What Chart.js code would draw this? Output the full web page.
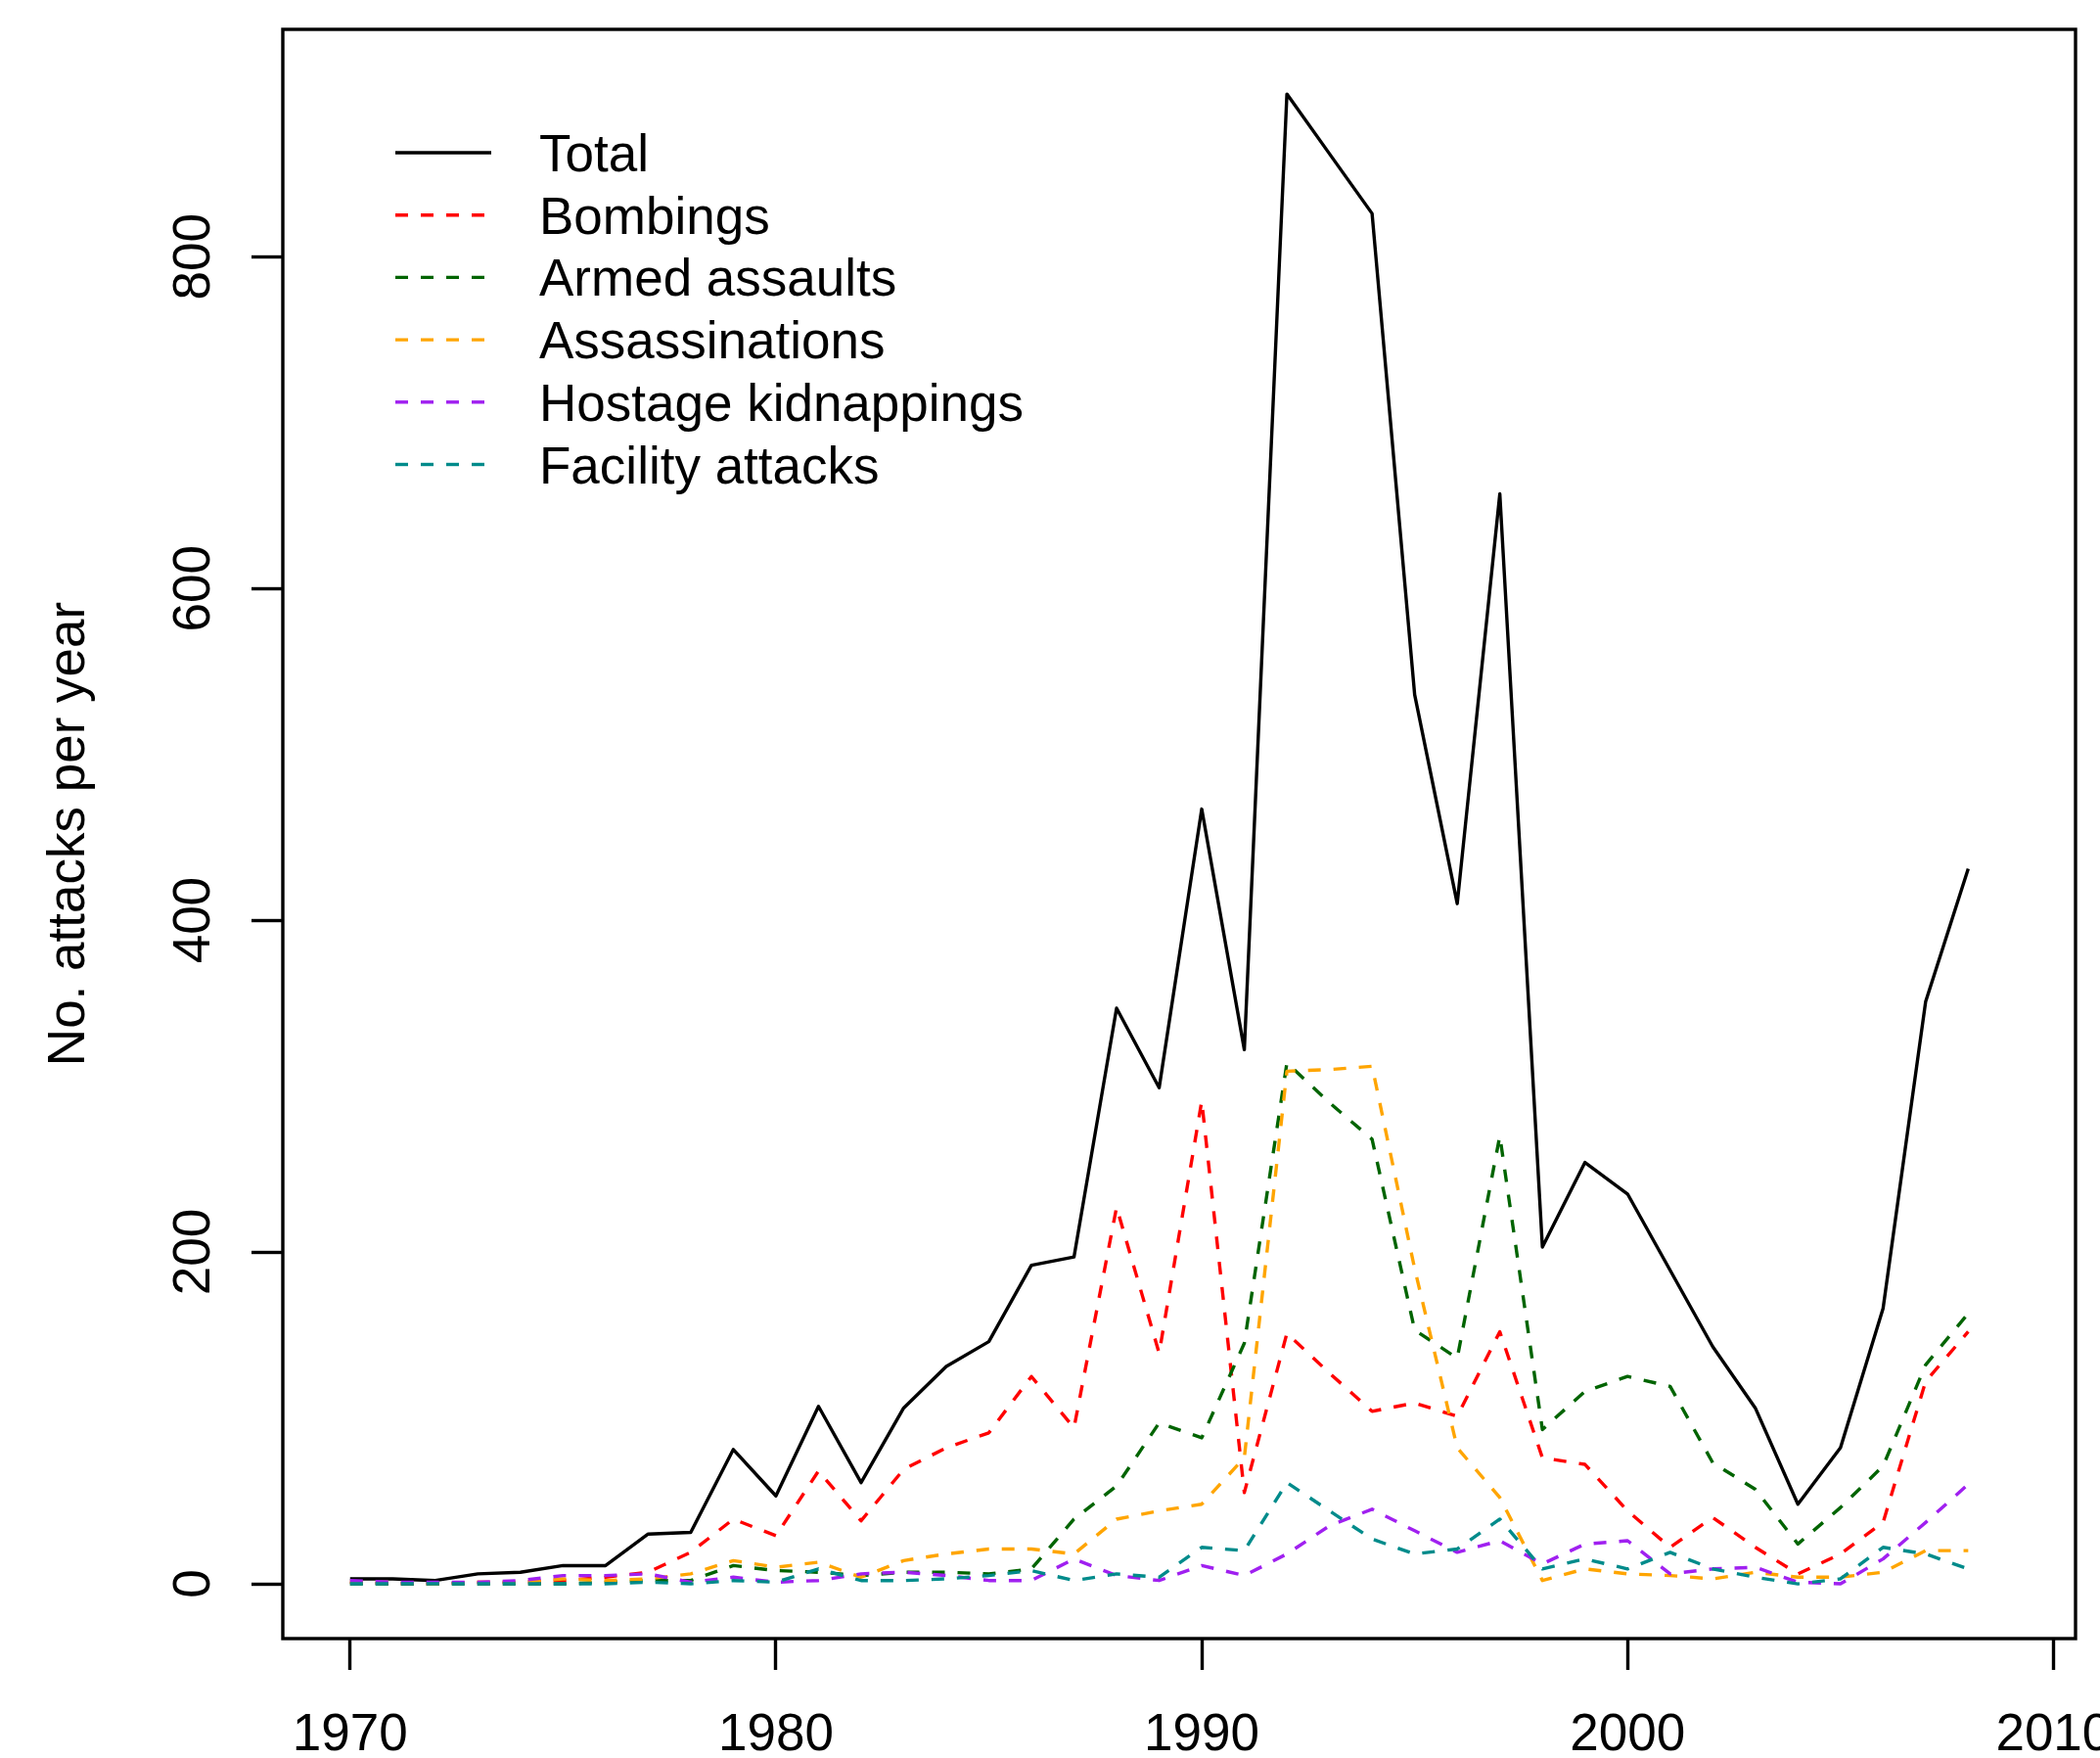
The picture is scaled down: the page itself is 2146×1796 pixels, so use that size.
<!DOCTYPE html>
<html lang="en">
<head>
<meta charset="UTF-8">
<title>Attacks per year</title>
<script src="https://cdn.jsdelivr.net/npm/chart.js@4.4.1/dist/chart.umd.min.js"></script>
<style>
  body { margin: 0; background: #fff; }
</style>
</head>
<body>
<canvas id="myChart" width="2146" height="1796"></canvas>
<script>
const years = [1970, 1971, 1972, 1973, 1974, 1975, 1976, 1977, 1978, 1979,
               1980, 1981, 1982, 1983, 1984, 1985, 1986, 1987, 1988, 1989,
               1990, 1991, 1992, 1993, 1994, 1995, 1996, 1997, 1998, 1999,
               2000, 2001, 2002, 2003, 2004, 2005, 2006, 2007, 2008];

const total          = [3, 3, 2, 6, 7, 11, 11, 30, 31, 81, 53, 107, 61, 106, 131, 146, 192, 197, 347, 299,
                        467, 322, 898, 862, 826, 536, 410, 657, 203, 254, 235, 189, 143, 106, 48, 82, 166, 351, 431];
const bombings       = [1, 0, 0, 1, 1, 2, 4, 7, 19, 39, 29, 68, 38, 69, 82, 91, 125, 94, 227, 139,
                        291, 55, 151, 127, 104, 109, 101, 152, 76, 72, 44, 22, 40, 22, 6, 18, 37, 122, 152];
const armedAssaults  = [0, 0, 0, 0, 0, 0, 1, 2, 2, 11, 8, 7, 5, 7, 7, 6, 9, 39, 59, 97,
                        88, 145, 314, 290, 268, 153, 136, 270, 93, 116, 125, 119, 73, 57, 24, 46, 71, 132, 163];
const assassinations = [1, 1, 0, 1, 1, 3, 2, 3, 6, 14, 10, 13, 4, 14, 18, 21, 21, 18, 39, 44,
                        48, 76, 309, 310, 312, 190, 82, 52, 2, 9, 6, 5, 3, 7, 4, 4, 7, 20, 20];
const hostage        = [2, 1, 1, 1, 2, 5, 5, 6, 1, 4, 1, 2, 6, 7, 5, 2, 2, 15, 5, 2,
                        11, 5, 18, 35, 45, 32, 19, 26, 12, 24, 26, 6, 9, 10, 1, 0, 15, 37, 60];
const facility       = [0, 0, 0, 0, 0, 0, 0, 1, 0, 2, 1, 9, 2, 2, 3, 5, 8, 2, 6, 4,
                        22, 20, 61, 44, 27, 18, 21, 39, 9, 15, 9, 19, 9, 4, 0, 3, 22, 18, 9];

const seriesNames  = ['Total', 'Bombings', 'Armed assaults', 'Assassinations', 'Hostage kidnappings', 'Facility attacks'];
const seriesColors = ['#000000', '#FF0000', '#006400', '#FFA500', '#A020F0', '#008B8B'];
const seriesValues = [total, bombings, armedAssaults, assassinations, hostage, facility];

const xTicks = [1970, 1980, 1990, 2000, 2010];
const yTicks = [0, 200, 400, 600, 800];
const yTitle = 'No. attacks per year';

const FONT = '"Liberation Sans", Arial, Helvetica, sans-serif';
const FSIZE = 53;
const LW = 3.4;
const DASH = [13, 13];
Chart.defaults.font.family = FONT;

function toPoints(vals) {
    return years.map((yr, i) => ({ x: yr, y: vals[i] }));
}

const datasets = seriesNames.map((name, i) => ({
    label: name,
    data: toPoints(seriesValues[i]),
    borderColor: seriesColors[i],
    borderWidth: LW,
    borderDash: i === 0 ? [] : DASH,
    borderCapStyle: 'butt',
    borderJoinStyle: 'round',
    pointRadius: 0,
    tension: 0,
    fill: false,
    order: seriesNames.length - i
}));

// R-like box, rotated y labels, axis title and legend
const rStyle = {
    id: 'rStyle',
    afterDraw(chart) {
        const { ctx, chartArea: a, scales: { y } } = chart;
        ctx.save();
        ctx.strokeStyle = '#000';
        ctx.lineWidth = LW;
        ctx.setLineDash([]);
        ctx.strokeRect(a.left, a.top, a.right - a.left, a.bottom - a.top);

        ctx.fillStyle = '#000';
        ctx.font = FSIZE + 'px ' + FONT;
        ctx.textAlign = 'center';
        ctx.textBaseline = 'alphabetic';
        y.ticks.forEach(t => {
            ctx.save();
            ctx.translate(a.left - 75, y.getPixelForValue(t.value));
            ctx.rotate(-Math.PI / 2);
            ctx.fillText(String(t.value), 0, 0);
            ctx.restore();
        });

        ctx.save();
        ctx.translate(86, (a.top + a.bottom) / 2);
        ctx.rotate(-Math.PI / 2);
        ctx.fillText(yTitle, 0, 0);
        ctx.restore();

        // legend
        ctx.textAlign = 'left';
        ctx.lineWidth = LW;
        seriesNames.forEach((name, i) => {
            const ly = 156 + i * 63.7;
            ctx.strokeStyle = seriesColors[i];
            ctx.setLineDash(i === 0 ? [] : DASH);
            ctx.beginPath();
            ctx.moveTo(404, ly);
            ctx.lineTo(502, ly);
            ctx.stroke();
            ctx.fillText(name, 551, ly + 19);
        });
        ctx.restore();
    }
};

const ctx = document.getElementById('myChart').getContext('2d');
const myChart = new Chart(ctx, {
    type: 'line',
    data: { datasets: datasets },
    options: {
        responsive: false,
        animation: false,
        devicePixelRatio: 1,
        layout: { padding: { left: 0, top: 30, right: 25, bottom: 0 } },
        plugins: {
            legend: { display: false },
            tooltip: { enabled: false }
        },
        scales: {
            x: {
                type: 'linear',
                min: 1968.42,
                max: 2010.52,
                afterBuildTicks(s) { s.ticks = xTicks.map(v => ({ value: v })); },
                ticks: {
                    autoSkip: false,
                    maxRotation: 0,
                    color: '#000',
                    font: { size: FSIZE },
                    padding: 36,
                    callback: v => String(v)
                },
                grid: { drawOnChartArea: false, drawTicks: true, tickLength: 32, tickWidth: LW, tickColor: '#000' },
                border: { display: false },
                afterFit(s) { s.height = 122; s.paddingLeft = 0; s.paddingRight = 0; }
            },
            y: {
                type: 'linear',
                min: -33,
                max: 937,
                afterBuildTicks(s) { s.ticks = yTicks.map(v => ({ value: v })); },
                ticks: { display: false },
                grid: { drawOnChartArea: false, drawTicks: true, tickLength: 32, tickWidth: LW, tickColor: '#000' },
                border: { display: false },
                afterFit(s) { s.width = 289; s.paddingTop = 0; s.paddingBottom = 0; }
            }
        }
    },
    plugins: [rStyle]
});
</script>
</body>
</html>
